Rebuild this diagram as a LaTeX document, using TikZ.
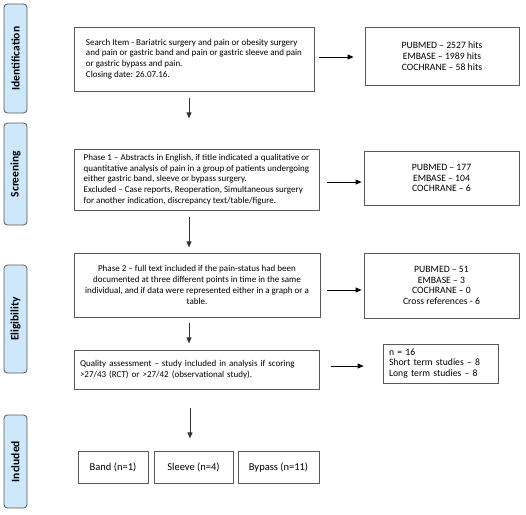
\documentclass[tikz,border=0pt]{standalone}
\usepackage{fontspec}
\setmainfont{Carlito}
\usetikzlibrary{arrows.meta}
\hyphenpenalty=10000
\exhyphenpenalty=10000
\definecolor{sidefill}{HTML}{CCE8FA}
\definecolor{boxline}{HTML}{5A5A5A}
\tikzset{
  box/.style={draw=boxline, line width=0.8pt, fill=white, inner xsep=7pt, inner ysep=3pt,
    font=\fontsize{9}{10.8}\selectfont},
  sidebox/.style={box, font=\fontsize{9.7}{10.8}\selectfont},
  bigbox/.style={box, font=\fontsize{10.5}{12}\selectfont},
  sidelabel/.style={draw=boxline, line width=0.8pt, fill=sidefill, rounded corners=3.5pt,
    rotate=90, minimum height=23pt, inner sep=0pt, font=\fontsize{11.5}{13}\selectfont\bfseries},
  rarr/.style={draw=black, line width=0.9pt, -{Triangle[length=6pt,width=5pt]}},
  darr/.style={draw=black!80, line width=0.9pt, -{Triangle[length=6pt,width=5pt]}}
}
\begin{document}
\begin{tikzpicture}[x=1pt,y=-1pt]
\useasboundingbox (0,0) rectangle (526,514);
% side labels
\node[sidelabel, minimum width=109pt] (s1) at (15.5,58.5) {Identification};
\node[sidelabel, minimum width=102pt] (s2) at (15.5,174) {Screening};
\node[sidelabel, minimum width=108pt] (s3) at (15.5,319) {Eligibility};
\node[sidelabel, minimum width=93pt] (s4) at (15.5,461.5) {Included};
% main column
\node[box, minimum width=240pt, minimum height=64pt, inner xsep=4pt, align=left] (b1) at (194,59)
 {Search Item - Bariatric surgery and pain or obesity surgery\\and pain or gastric band and pain or gastric sleeve and pain\\or gastric bypass and pain.\\Closing date: 26.07.16.};
\node[box, minimum width=245pt, minimum height=61pt, inner xsep=4pt, align=left] (b2) at (196.5,179.5)
 {Phase 1 -- Abstracts in English, if title indicated a qualitative or\\quantitative analysis of pain in a group of patients undergoing\\either gastric band, sleeve or bypass surgery.\\Excluded -- Case reports, Reoperation, Simultaneous surgery\\for another indication, discrepancy text/table/figure.};
\node[box, minimum width=246pt, minimum height=64pt, inner xsep=4pt, align=center] (b3) at (197,285)
 {Phase 2 -- full text included if the pain-status had been\\documented at three different points in time in the same\\individual, and if data were represented either in a graph or a\\table.};
\node[box, minimum width=245pt, minimum height=39pt, text width=233pt, inner xsep=6pt, align=left] (b4) at (196.5,369.5)
 {Quality assessment -- study included in analysis if scoring\\>27/43 (RCT) or >27/42 (observational study).};
% right column
\node[sidebox, minimum width=154pt, minimum height=58pt, align=center] (r1) at (442,56)
 {PUBMED -- 2527 hits\\EMBASE -- 1989 hits\\COCHRANE -- 58 hits};
\node[sidebox, minimum width=155pt, minimum height=54pt, align=center] (r2) at (441.5,178)
 {PUBMED -- 177\\EMBASE -- 104\\COCHRANE -- 6};
\node[sidebox, minimum width=155pt, minimum height=65pt, align=center] (r3) at (441.5,285.5)
 {PUBMED -- 51\\EMBASE -- 3\\COCHRANE -- 0\\Cross references - 6};
\node[sidebox, minimum width=115pt, minimum height=39pt, text width=103pt, inner xsep=6pt, align=left] (r4) at (440.5,363.5)
 {n = 16\\Short term studies -- 8\\Long term studies -- 8};
% included
\node[bigbox, minimum width=70pt, minimum height=32pt] (band) at (113,467) {Band (n=1)};
\node[bigbox, minimum width=79pt, minimum height=32pt] (sleeve) at (193.5,467) {Sleeve (n=4)};
\node[bigbox, minimum width=81pt, minimum height=32pt] (bypass) at (278.5,467) {Bypass (n=11)};
% arrows right
\draw[rarr] ([xshift=5pt,yshift=2pt]b1.east) -- ([xshift=-11pt,yshift=2pt]b1.east -| r1.west);
\draw[rarr] ([xshift=8pt,yshift=-2.5pt]b2.east) -- ([xshift=-2pt,yshift=-2.5pt]b2.east -| r2.west);
\draw[rarr] ([xshift=7pt,yshift=-5pt]b3.east) -- ([xshift=-2pt,yshift=-5pt]b3.east -| r3.west);
\draw[rarr] ([xshift=12pt,yshift=3.5pt]b4.east) -- ([xshift=-19pt,yshift=3.5pt]b4.east -| r4.west);
% arrows down
\draw[darr] ([xshift=-5pt,yshift=-7pt]b1.south) -- ++(0,20);
\draw[darr] ([xshift=-7.5pt,yshift=-7pt]b2.south) -- ++(0,30);
\draw[darr] ([xshift=-8pt,yshift=-6pt]b3.south) -- ++(0,20);
\draw[darr] ([xshift=-6.5pt,yshift=-19pt]b4.south) -- ++(0,30);
\end{tikzpicture}
\end{document}
